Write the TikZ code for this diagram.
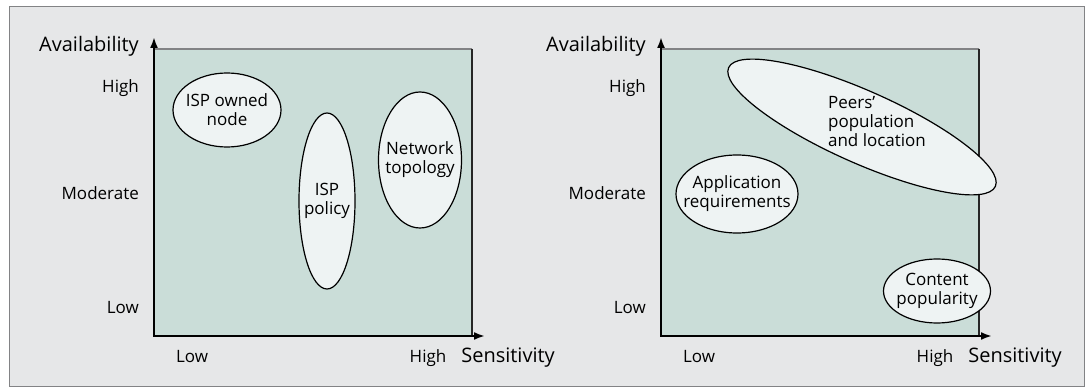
\documentclass[tikz,border=0pt]{standalone}
\usepackage{fontspec}
\setmainfont{Open Sans}
\usetikzlibrary{arrows.meta,shapes.geometric}
\definecolor{Frame}{RGB}{230,231,232}
\definecolor{Panel}{RGB}{202,221,216}
\definecolor{Bubble}{RGB}{238,243,243}
\definecolor{Edge}{RGB}{130,131,133}

\begin{document}
\begin{tikzpicture}[x=1pt, y=-1pt,
  axis/.style={line width=2pt, line cap=rect, -{Latex[length=11pt,width=8pt]}},
  lbl/.style={inner sep=0pt, font=\fontsize{17}{19}\selectfont},
  ttl/.style={inner sep=0pt, font=\fontsize{20}{22}\selectfont},
  bubble/.style={ellipse, draw, line width=1.2pt, fill=Bubble, inner sep=0pt}]
  \useasboundingbox (0,0) rectangle (1087,387);
  \draw[Edge, fill=Frame, line width=1pt] (9.5,7) rectangle (1084,386);

  % the two panels share box, axes and tick labels
  \foreach \p/\dx in {L/0, R/507} {
    \begin{scope}[xshift=\dx pt]
      \fill[Panel] (154,49) rectangle (472,336);
      \draw[Edge, line width=1.5pt] (154,49) -- (472,49);
      \draw[black!85, line width=1.6pt] (472,49) -- (472,336);
      \coordinate (o\p) at (154,336);
      \coordinate (ytip\p) at (154,37);
      \coordinate (xtip\p) at (485,336);
      \draw[axis] (o\p) -- (ytip\p);
      \draw[axis] (o\p) -- (xtip\p);
      \node[ttl, anchor=base east] (avail\p) at (139,52) {Availability};
      \node[lbl, anchor=base east] (yhi\p) at (139,93) {High};
      \node[lbl, anchor=base east] (ymid\p) at (139,200) {Moderate};
      \node[lbl, anchor=base east] (ylo\p) at (139,313) {Low};
      \node[lbl, anchor=base] (xlo\p) at (192,362) {Low};
      \node[lbl, anchor=base] (xhi\p) at (428,362) {High};
      \node[ttl, anchor=base] (sens\p) at (508,362) {Sensitivity};
    \end{scope}
  }

  % left panel: ISP side
  \node[bubble, minimum width=108pt, minimum height=74pt] (owned) at (227,110) {};
  \node[lbl, align=center] (ownedtxt) at (owned) {ISP owned\\node};
  \node[bubble, minimum width=56pt, minimum height=176pt] (policy) at (327,201) {};
  \node[lbl, align=center] (policytxt) at (policy) {ISP\\policy};
  \node[bubble, minimum width=83pt, minimum height=136pt] (topo) at (420,160) {};
  \node[lbl, align=center] (topotxt) at (topo) {Network\\topology};

  % right panel: application side
  \node[bubble, minimum width=122pt, minimum height=78pt] (app) at (737,194) {};
  \node[lbl, align=center] (apptxt) at (app) {Application\\requirements};
  \node[bubble, minimum width=107pt, minimum height=64pt] (content) at (937,291) {};
  \node[lbl, align=center] (contenttxt) at (content) {Content\\popularity};
  \node[bubble, rotate=-24, minimum width=292pt, minimum height=72pt] (peers) at (862,127) {};
  \node[lbl, align=left] (peerstxt) at (877,122) {Peers’\\population\\and location};
\end{tikzpicture}
\end{document}
